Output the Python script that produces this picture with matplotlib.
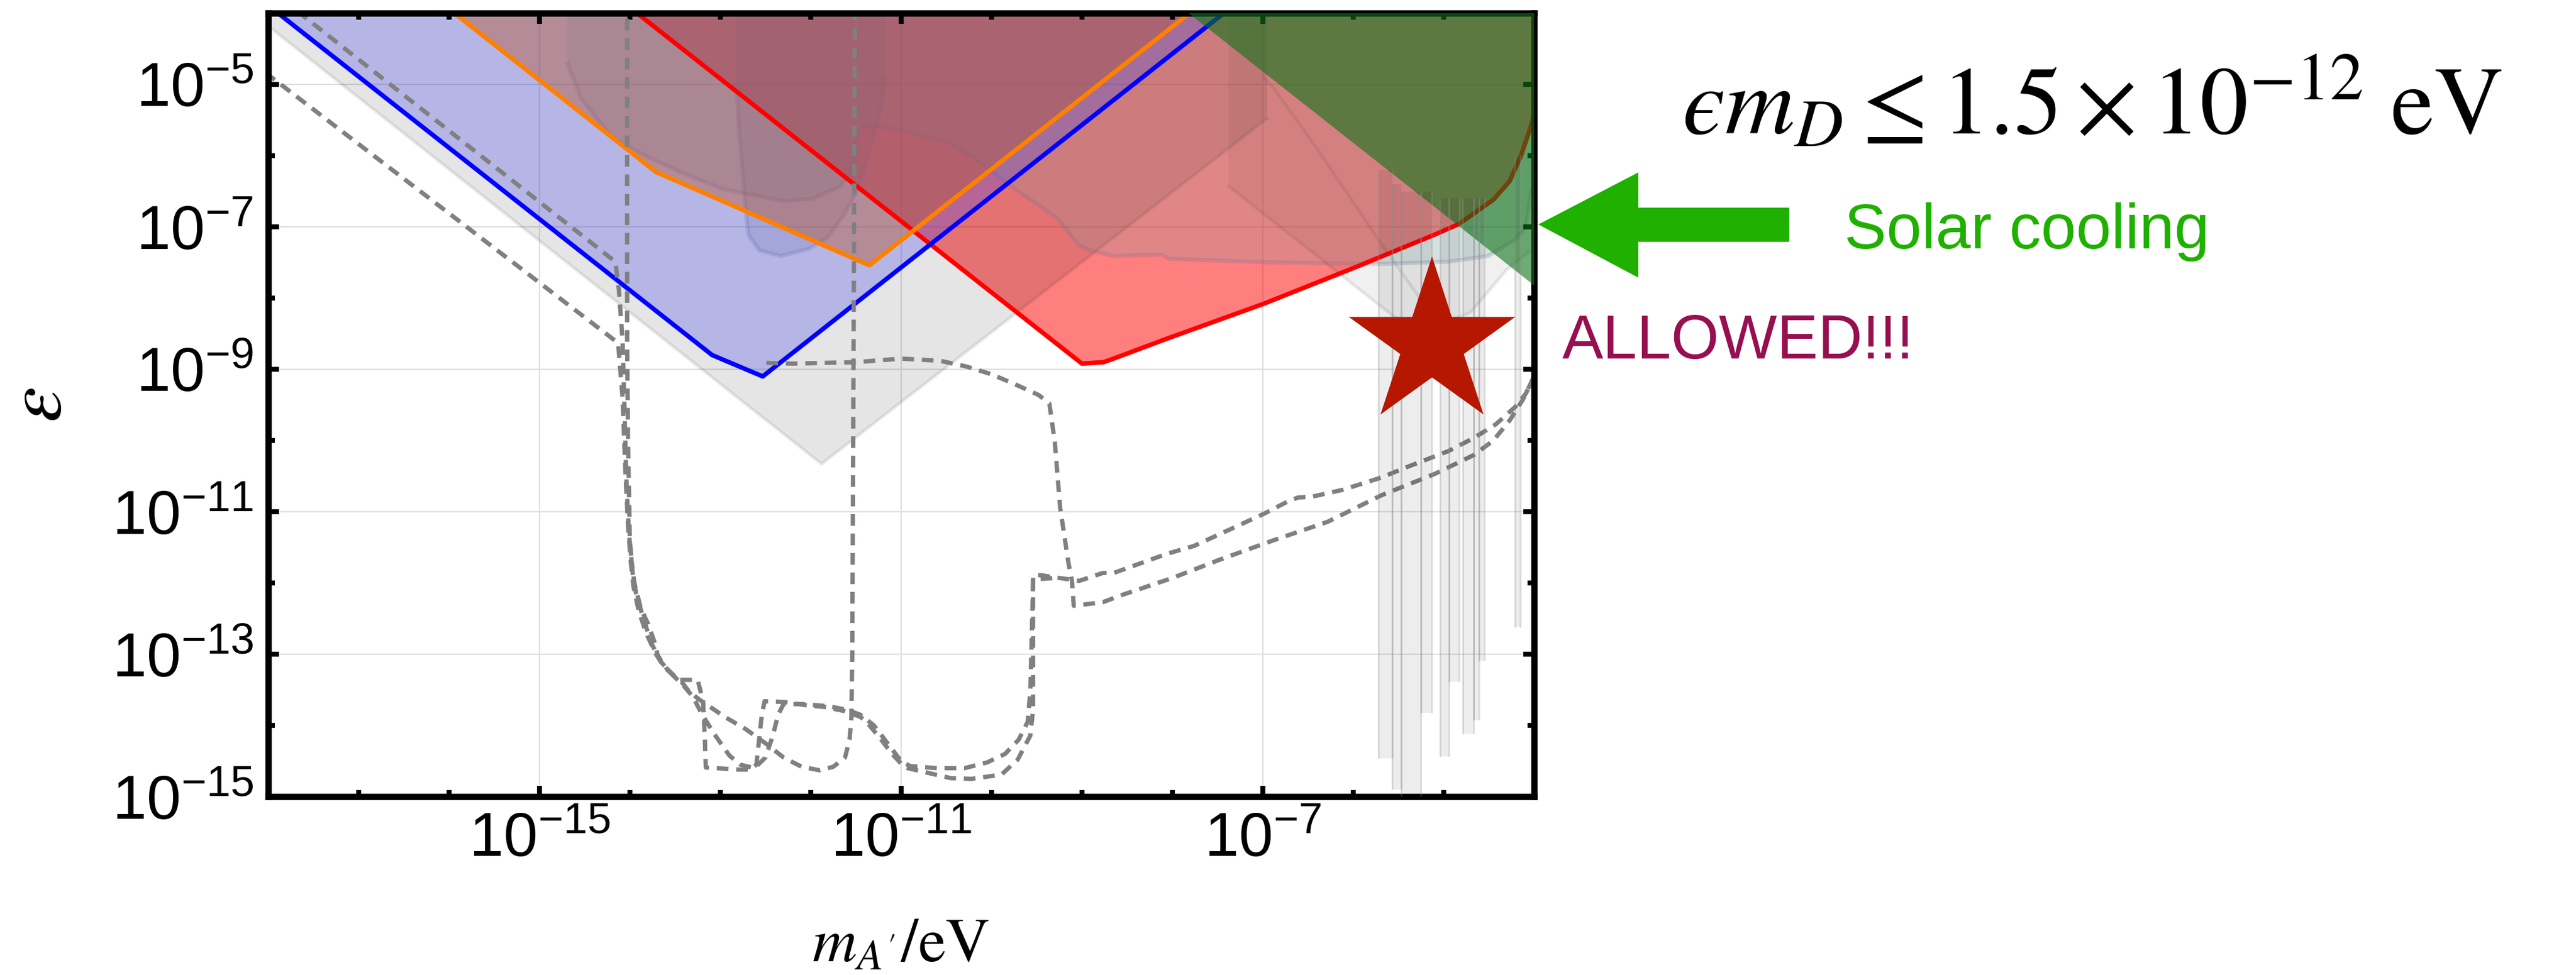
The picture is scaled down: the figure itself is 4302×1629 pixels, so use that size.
import numpy as np
import matplotlib
matplotlib.use('Agg')
import matplotlib.pyplot as plt
from matplotlib.patches import Polygon
from matplotlib.ticker import FixedLocator, FuncFormatter, NullFormatter

plt.rcParams['font.family'] = ['Liberation Sans', 'DejaVu Sans']

# every value below is log10(m / eV) or log10(epsilon)

# light grey wedge (other bounds)
grayv_x = [-18.6, -11.88, -6.95, -6.95, -18.6]
grayv_y = [-3.58, -10.33, -5.48, -3.3, -3.3]
gray2_x = [-7.38, -7.38, -5.30, -4.70, -4.30, -3.9, -3.9]
gray2_y = [-3.3, -6.43, -8.51, -8.20, -7.60, -7.20, -3.3]
edge_c_x = [-6.99, -6.88, -6.40, -5.72, -5.28, -5.10]
edge_c_y = [-4.90, -5.05, -5.90, -7.18, -7.97, -8.30]

# translucent blobs in the middle
blob1_x = [-14.69, -14.69, -14.54, -14.19, -13.80, -13.41, -12.97, -12.29, -11.97, -11.67,
           -11.52, -11.49, -11.40, -11.25, -10.96, -10.45, -10.16, -9.86, -9.27, -9.03,
           -8.91, -8.65, -8.12, -8.03, -6.88, -5.69, -4.95, -4.51, -4.21, -4.09,
           -4.03, -3.9, -3.9]
blob1_y = [-3.3, -4.71, -5.20, -5.76, -6.02, -6.25, -6.47, -6.64, -6.60, -6.43,
           -6.13, -5.68, -5.57, -5.59, -5.66, -5.83, -6.06, -6.36, -6.88, -7.26,
           -7.33, -7.41, -7.39, -7.45, -7.50, -7.52, -7.49, -7.41, -7.18, -7.00,
           -6.50, -5.80, -3.3]
blob2_x = [-12.83, -12.82, -12.79, -12.72, -12.69, -12.57, -12.33, -12.02, -11.81, -11.64,
           -11.49, -11.34, -11.22, -11.18, -11.18]
blob2_y = [-3.3, -5.00, -5.68, -6.73, -7.11, -7.33, -7.41, -7.31, -7.15, -6.85,
           -6.51, -5.91, -5.31, -4.93, -3.3]

# coloured bounds
blue_x = [-18.6, -13.09, -12.53, -6.73]
blue_y = [-3.29, -8.80, -9.10, -3.30]
orange_x = [-16.45, -13.71, -11.35, -7.31]
orange_y = [-3.49, -6.23, -7.54, -3.50]
red_x = [-14.6, -9.00, -8.76, -8.65, -8.06, -6.99, -6.00, -5.10, -4.83, -4.45,
         -4.27, -4.15, -4.04, -3.95, -3.9]
red_y = [-3.32, -8.92, -8.90, -8.85, -8.57, -8.08, -7.58, -7.11, -6.96, -6.62,
         -6.36, -6.02, -5.61, -5.20, -3.3]
green_x = [-8.0, -3.9]
green_y = [-3.82, -7.92]

# spiky grey band on the right
spike_l = [-5.72, -5.57, -5.47, -5.25, -5.04, -4.94, -4.79, -4.67, -4.61, -4.21]
spike_r = [-5.57, -5.47, -5.25, -5.13, -4.94, -4.83, -4.67, -4.61, -4.55, -4.15]
spike_b = [-14.46, -14.90, -15.20, -13.82, -14.44, -13.39, -14.12, -13.92, -13.09, -12.62]
spike_t = [-6.2, -6.4, -6.5, -6.5, -6.6, -6.6, -6.6, -6.6, -6.6, -6.0]

# dashed projections
dash1_x = [-18.2, -14.16, -14.12, -14.08, -14.06, -14.04, -14.01, -13.98, -13.95, -13.88,
           -13.80, -13.73, -13.69, -13.60, -13.51, -13.45, -13.25, -13.19, -13.17, -13.16,
           -12.80, -12.67, -12.60, -12.57, -12.54, -12.51, -12.30, -12.03, -11.85, -11.62,
           -11.45, -11.39, -11.25, -11.10, -10.96, -10.45, -10.22, -9.89, -9.71, -9.57,
           -9.54, -9.54, -9.54, -9.46, -9.03, -8.77, -8.65, -8.06, -7.76, -6.99,
           -6.73, -6.61, -6.46, -6.11, -5.69, -5.40, -4.95, -4.66, -4.42, -4.21,
           -4.09, -4.00, -3.90]
dash1_y = [-3.45, -7.49, -7.90, -8.60, -9.50, -10.50, -11.30, -11.70, -12.00, -12.35,
           -12.57, -12.82, -13.02, -13.19, -13.30, -13.36, -13.36, -13.66, -14.20, -14.59,
           -14.62, -14.62, -14.55, -14.20, -13.85, -13.66, -13.67, -13.72, -13.74, -13.80,
           -13.88, -13.94, -14.15, -14.40, -14.59, -14.74, -14.75, -14.69, -14.48, -14.14,
           -13.77, -12.50, -11.89, -11.89, -11.97, -11.86, -11.86, -11.59, -11.48, -11.03,
           -10.86, -10.80, -10.79, -10.69, -10.52, -10.37, -10.15, -9.96, -9.77, -9.53,
           -9.34, -9.10, -8.80]
dash2_x = [-18.2, -14.13, -14.08, -14.05, -14.02, -13.99, -13.96, -13.90, -13.82, -13.72,
           -13.62, -13.50, -13.42, -13.36, -13.25, -13.10, -12.95, -12.72, -12.50, -12.30,
           -12.10, -11.90, -11.75, -11.62, -11.57, -11.55, -11.54, -11.53, -11.52, -11.51]
dash2_y = [-4.67, -8.63, -9.40, -10.40, -11.20, -11.70, -12.05, -12.40, -12.70, -12.98,
           -13.18, -13.32, -13.40, -13.50, -13.62, -13.75, -13.88, -14.05, -14.25, -14.45,
           -14.58, -14.63, -14.58, -14.45, -14.20, -13.90, -13.00, -10.00, -7.00, -3.30]
dash3_x = [-14.03, -14.03, -14.02, -14.00, -13.97, -13.93, -13.85, -13.76, -13.66, -13.55,
           -13.40, -13.30, -13.20, -13.05, -12.90, -12.78, -12.62, -12.50, -12.42, -12.36,
           -12.30, -12.10, -11.80, -11.60, -11.45, -11.30, -11.15, -11.00, -10.90, -10.60,
           -10.30, -10.05, -9.85, -9.70, -9.60, -9.57, -9.55, -9.54, -9.30]
dash3_y = [-3.30, -8.60, -10.00, -11.40, -11.85, -12.15, -12.50, -12.85, -13.10, -13.26,
           -13.45, -13.60, -13.85, -14.15, -14.42, -14.55, -14.60, -14.45, -14.15, -13.85,
           -13.70, -13.70, -13.73, -13.78, -13.85, -14.00, -14.25, -14.50, -14.57, -14.60,
           -14.60, -14.52, -14.40, -14.20, -13.95, -13.50, -12.50, -11.95, -11.93]
dash4_x = [-12.49, -12.20, -11.50, -11.00, -10.57, -10.28, -10.00, -9.74, -9.48, -9.36,
           -9.30, -9.24, -9.15, -9.11, -9.09, -8.77, -8.56, -8.00, -7.47, -6.88,
           -6.28, -5.69, -5.10, -4.66, -4.45, -4.27, -4.12, -4.00, -3.90]
dash4_y = [-8.91, -8.92, -8.90, -8.85, -8.88, -8.96, -9.07, -9.21, -9.36, -9.48,
           -10.02, -10.95, -11.71, -11.97, -12.32, -12.27, -12.17, -11.93, -11.67, -11.40,
           -11.14, -10.77, -10.47, -10.20, -10.00, -9.72, -9.42, -9.10, -8.80]

star_x = [-5.13]
star_y = [-8.64]

x_major = [-15, -11, -7]
y_major = [-15, -13, -11, -9, -7, -5]


def p(v):
    return 10.0 ** np.asarray(v, dtype=float)


fig = plt.figure(figsize=(21.51, 8.145), dpi=200)
ax = fig.add_axes([0.1041, 0.1829, 0.4914, 0.8036])
ax.set_xscale('log')
ax.set_yscale('log')

# grid
for v in x_major:
    ax.axvline(p(v), color='#dedede', lw=0.8, zorder=0.5)
for v in y_major:
    ax.axhline(p(v), color='#dedede', lw=0.8, zorder=0.5)

# regions (red first, the grey and blobs darken it)
ax.fill(p(red_x), p(red_y), color='#ff0000', alpha=0.5, lw=0, zorder=1.0)
ax.fill(p(grayv_x), p(grayv_y), color='k', alpha=0.10, lw=0, zorder=1.1)
ax.plot(p(grayv_x[:3]), p(grayv_y[:3]), color='k', alpha=0.08, lw=2.0, zorder=1.1)
ax.fill(p(gray2_x), p(gray2_y), color='k', alpha=0.06, lw=0, zorder=1.15)
ax.plot(p(gray2_x[1:6]), p(gray2_y[1:6]), color='k', alpha=0.08, lw=2.0, zorder=1.15)
ax.plot(p(edge_c_x), p(edge_c_y), color='k', alpha=0.08, lw=2.0, zorder=1.15)
ax.fill(p(blob1_x), p(blob1_y), color='#6ba5a5', alpha=0.2, lw=0, zorder=1.2)
ax.plot(p(blob1_x[1:-2]), p(blob1_y[1:-2]), color='#6a6a90', alpha=0.22, lw=2.5, zorder=1.2)
ax.fill(p(blob2_x), p(blob2_y), color='#6e6e82', alpha=0.2, lw=0, zorder=1.25)
ax.plot(p(blob2_x[1:-1]), p(blob2_y[1:-1]), color='#6a6a90', alpha=0.22, lw=2.5, zorder=1.25)
ax.fill(p(blue_x), p(blue_y), color='#464beb', alpha=0.3, lw=0, zorder=1.3)
ax.fill(p(orange_x), p(orange_y), color='#b4593a', alpha=0.45, lw=0, zorder=1.4)

ax.plot(p(red_x[:-1]), p(red_y[:-1]), color='#ff0000', lw=2.7, zorder=2.0)
ax.plot(p(blue_x), p(blue_y), color='#0000ff', lw=2.7, zorder=2.1)
ax.plot(p(orange_x), p(orange_y), color='#ff8000', lw=2.7, zorder=2.2)

for dx, dy in [(dash1_x, dash1_y), (dash2_x, dash2_y), (dash3_x, dash3_y), (dash4_x, dash4_y)]:
    ax.plot(p(dx), p(dy), color='#808080', lw=2.6, dashes=(2.7, 1.8), zorder=2.3)

# solar cooling bound
gx = green_x + [green_x[-1], green_x[0]]
gy = green_y + [green_y[0], green_y[0]]
ax.fill(p(gx), p(gy), color='#0f7317', alpha=0.6, lw=0, zorder=3.0)

# spikes
for l, r, b, t in zip(spike_l, spike_r, spike_b, spike_t):
    ax.fill_between(p([l, r]), p([b, b]), p([t, t]), facecolor='k', alpha=0.07,
                    lw=0, zorder=3.1)
    ax.vlines(p([l, r]), p([b, b]), p([t, t]), color='#909090', alpha=0.3, lw=1.0,
              zorder=3.1)

ax.plot(p(star_x), p(star_y), marker='*', ms=105, color='#b51700', mec='none',
        ls='none', zorder=5)

ax.set_xlim(1e-18, 1e-4)
ax.set_ylim(1e-15, 1e-4)

fmt = FuncFormatter(lambda v, pos: r'$\mathdefault{10^{%d}}$' % round(np.log10(v)))
ax.xaxis.set_major_locator(FixedLocator(p(x_major)))
ax.xaxis.set_minor_locator(FixedLocator(p([v for v in range(-17, -4) if v not in x_major])))
ax.yaxis.set_major_locator(FixedLocator(p(y_major)))
ax.yaxis.set_minor_locator(FixedLocator(p([v for v in range(-14, -3) if v not in y_major])))
ax.xaxis.set_major_formatter(fmt)
ax.yaxis.set_major_formatter(fmt)
ax.xaxis.set_minor_formatter(NullFormatter())
ax.yaxis.set_minor_formatter(NullFormatter())
ax.tick_params(which='both', direction='in', top=True, right=True, width=3.0,
               labelsize=37, pad=9)
ax.tick_params(which='major', length=6.5)
ax.tick_params(which='minor', length=4.0)
for s in ax.spines.values():
    s.set_linewidth(3.8)

fig.text(0.3496, 0.014, r"$m_{A'}/\mathrm{eV}$", math_fontfamily='stix', fontsize=37,
         ha='center', va='baseline')
fig.text(0.0158, 0.5847, '$\u03b5$', math_fontfamily='stix', fontsize=48,
         rotation=90, ha='center', va='center')

fig.text(0.653, 0.863, '$\u03f5 m_D \\leq 1.5\\times 10^{-12}\\ \\mathrm{eV}$',
         math_fontfamily='stix', fontsize=58, ha='left', va='baseline')
fig.text(0.716, 0.745, 'Solar cooling', color='#1fb000', fontsize=38,
         ha='left', va='baseline')
fig.text(0.6065, 0.632, 'ALLOWED!!!', color='#960f50', fontsize=37,
         ha='left', va='baseline')

arrow = Polygon([(0.5972, 0.7698), (0.6360, 0.8232), (0.6360, 0.7870), (0.6946, 0.7870),
                 (0.6946, 0.7520), (0.6360, 0.7520), (0.6360, 0.7152)],
                closed=True, transform=fig.transFigure, facecolor='#1fb000',
                edgecolor='none')
fig.patches.append(arrow)

fig.savefig('out.png', dpi=200)
